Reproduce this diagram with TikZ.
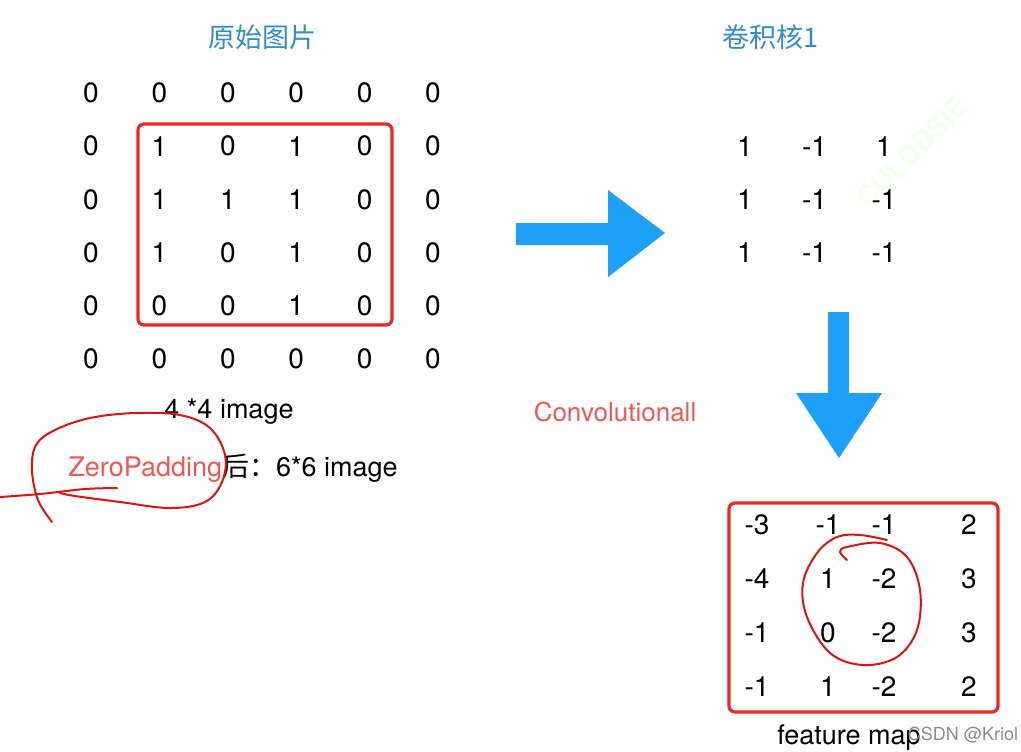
\documentclass[tikz,border=0pt]{standalone}
\usepackage{fontspec}
\setmainfont{TeX Gyre Heros}
\newfontfamily\cjk{Noto Sans CJK SC}
\usepackage{xcolor}
\usetikzlibrary{positioning}

\definecolor{titleblue}{RGB}{52,140,205}
\definecolor{arrowblue}{RGB}{28,160,248}
\definecolor{boxred}{RGB}{232,40,36}
\definecolor{inkred}{RGB}{222,18,18}
\definecolor{labelred}{RGB}{238,88,82}

\tikzset{
  num/.style={font=\fontsize{14}{16}\selectfont, inner sep=0pt},
  title/.style={font=\cjk\fontsize{13.5}{16}\selectfont, text=titleblue},
  caption/.style={font=\fontsize{13.5}{16}\selectfont, inner sep=0pt},
  redbox/.style={draw=boxred, line width=1.6pt, rounded corners=3pt},
  ink/.style={draw=inkred, line width=1pt, line cap=round, line join=round}
}

\begin{document}
\begin{tikzpicture}[x=0.5pt,y=-0.5pt]
        \useasboundingbox (0,0) rectangle (1021,751);
        % titles
        \node[title] (imgtitle) at (262,37) {原始图片};
        \node[title] (kertitle) at (770,37) {卷积核1};
        % padded 6*6 image
        \foreach \row [count=\r from 0] in {{0,0,0,0,0,0},{0,1,0,1,0,0},{0,1,1,1,0,0},{0,1,0,1,0,0},{0,0,0,1,0,0},{0,0,0,0,0,0}} {
            \foreach \v [count=\c from 0] in \row {
                \node[num] (img-\r-\c) at ({91+68.4*\c},{93+53.2*\r}) {\v};
            }
        }
        \draw[redbox] (138,124) rectangle (392,325);
        \node[caption] (imgcap) at (229,412) {4 *4 image};
        \node[caption, anchor=west] (padcap) at (68,468) {{\color{labelred}ZeroPadding}{\cjk 后：}6*6 image};
        % kernel
        \foreach \row [count=\r from 0] in {{1,-1,1},{1,-1,-1},{1,-1,-1}} {
            \foreach \v [count=\c from 0] in \row {
                \node[num] (ker-\r-\c) at ({745+69.5*\c},{147+53*\r}) {\v};
            }
        }
        \node[font=\bfseries\fontsize{14}{16}\selectfont, text=green!60!yellow, opacity=0.07, rotate=45] (wmark) at (912,152) {CULDDSIE};
        % arrows
        \fill[arrowblue] (516,223) -- (608,223) -- (608,190) -- (665,233) -- (608,277) -- (608,245) -- (516,245) -- cycle;
        \fill[arrowblue] (828,312) -- (849,312) -- (849,393) -- (882,393) -- (839,458) -- (796,393) -- (828,393) -- cycle;
        \node[caption, text=labelred, font=\fontsize{13}{16}\selectfont] (convlabel) at (615,412) {Convolutionall};
        % feature map
        \foreach \row [count=\r from 0] in {{-3,-1,-1,2},{-4,1,-2,3},{-1,0,-2,3},{-1,1,-2,2}} {
            \foreach \v [count=\c from 0] in \row {
                \pgfmathsetmacro{\fx}{{757,828,884,969}[\c]}
                \node[num] (fm-\r-\c) at ({\fx},{525+53.7*\r}) {\v};
            }
        }
        \draw[redbox] (729,503) rectangle (998,712);
        \node[caption] (fmcap) at (849,738) {feature map};
        \node[font=\fontsize{9}{10}\selectfont, text=black!45, inner sep=0pt] (csdn) at (963,735) {CSDN @Kriol};
        % hand drawn marks
        \draw[ink] plot[smooth, tension=0.6] coordinates {(52,522) (38,500) (32,470) (36,445) (55,430) (90,418) (135,413) (180,415) (210,428) (225,455) (222,482) (205,502) (170,508) (120,502) (75,496) (60,493)};
        \draw[ink] plot[smooth] coordinates {(0,497) (40,494) (85,489) (117,488)};
        \draw[ink] plot[smooth, tension=0.6] coordinates {(847,560) (840,552) (847,547) (880,543) (907,557) (920,590) (917,630) (897,657) (863,665) (830,653) (807,617) (803,583) (817,553) (837,537) (860,535) (887,540)};
    \end{tikzpicture}
\end{document}
